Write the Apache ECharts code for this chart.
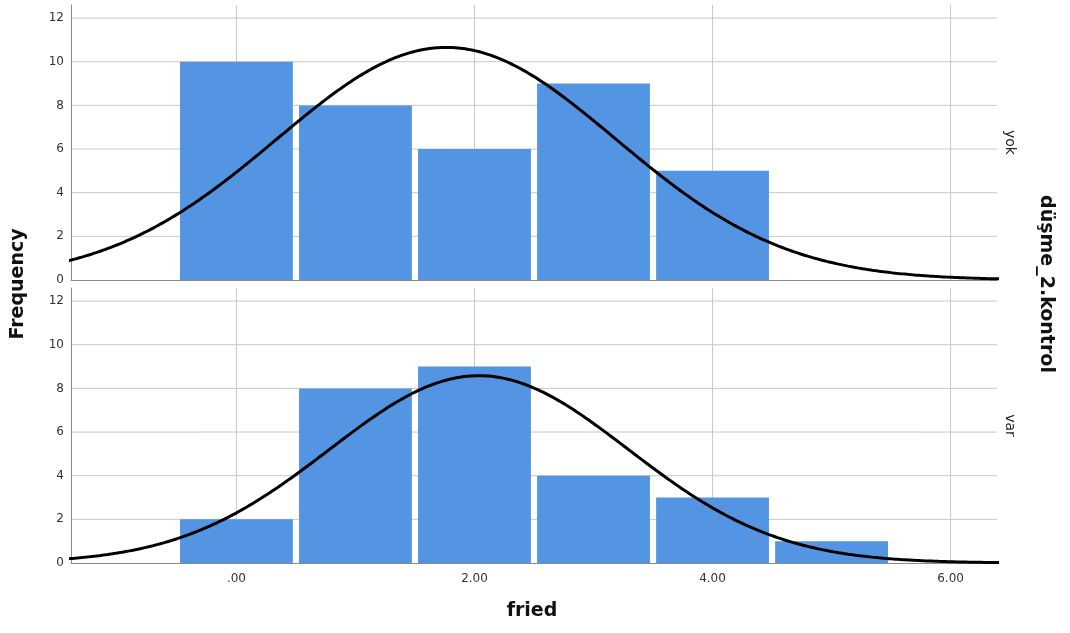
<!DOCTYPE html>
<html>
<head>
<meta charset="utf-8">
<script src="https://cdn.jsdelivr.net/npm/echarts@6/dist/echarts.min.js"></script>
<style>
  html, body { margin: 0; padding: 0; background: #fff; }
  #chart { width: 1070px; height: 633px; }
</style>
</head>
<body>
<div id="chart"></div>
<script>
// histogram bins (fried value -> count), one array per panel
var binCenters = [0, 1, 2, 3, 4, 5]
var yokCounts = [10, 8, 6, 9, 5, 0]
var varCounts = [2, 8, 9, 4, 3, 1]
var panelNames = ['yok', 'var']
var xTicks = [0, 2, 4, 6]
var yTicks = [0, 2, 4, 6, 8, 10, 12]

var font = 'DejaVu Sans'
var xMin = -1.39, xMax = 6.39, yMax = 12.6

// normal curve fitted to the binned data (mean, sample sd, n)
function fit (counts) {
  var n = 0, s = 0, s2 = 0
  counts.forEach(function (c, i) {
    n += c; s += c * binCenters[i]; s2 += c * binCenters[i] * binCenters[i]
  })
  var mean = s / n
  var sd = Math.sqrt((s2 - n * mean * mean) / (n - 1))
  return { n: n, mean: mean, sd: sd }
}
function curve (counts) {
  var f = fit(counts)
  var pts = []
  for (var x = -1.5; x <= 6.5; x += 0.02) {
    var z = (x - f.mean) / f.sd
    pts.push([x, f.n / (f.sd * Math.sqrt(2 * Math.PI)) * Math.exp(-z * z / 2)])
  }
  return pts
}

function barSeries (counts, idx) {
  return {
    type: 'custom',
    xAxisIndex: idx,
    yAxisIndex: idx,
    data: binCenters.map(function (x, i) { return [x, counts[i]] }),
    renderItem: function (params, api) {
      var x = api.value(0), y = api.value(1)
      if (!y) return
      var p0 = api.coord([x - 0.474, y])
      var p1 = api.coord([x + 0.474, 0])
      return {
        type: 'rect',
        shape: { x: p0[0], y: p0[1], width: p1[0] - p0[0], height: p1[1] - p0[1] },
        style: { fill: '#5394e3' }
      }
    },
    z: 2
  }
}
function curveSeries (counts, idx) {
  return {
    type: 'line',
    xAxisIndex: idx,
    yAxisIndex: idx,
    data: curve(counts),
    showSymbol: false,
    clip: true,
    lineStyle: { color: '#000', width: 3 },
    z: 3
  }
}

var grids = [
  { left: 71, right: 73, top: 5, height: 275 },
  { left: 71, right: 73, top: 288, height: 275 }
]

function xAxis (idx) {
  return {
    type: 'value',
    gridIndex: idx,
    min: xMin,
    max: xMax,
    axisLine: { onZero: false, lineStyle: { color: '#8a8a8a' } },
    axisTick: { show: false },
    axisLabel: {
      show: idx === 1,
      color: '#333',
      fontFamily: font,
      fontSize: 12,
      margin: 10,
      customValues: xTicks,
      formatter: function (v) { return v === 0 ? '.00' : v.toFixed(2) }
    },
    splitLine: { show: false }
  }
}
function yAxis (idx) {
  return {
    type: 'value',
    gridIndex: idx,
    min: 0,
    max: yMax,
    axisLine: { show: true, onZero: false, lineStyle: { color: '#8a8a8a' } },
    axisTick: { show: false },
    axisLabel: {
      color: '#333',
      fontFamily: font,
      fontSize: 12,
      margin: 7,
      customValues: yTicks
    },
    splitLine: { show: false }
  }
}

var chart = echarts.init(document.getElementById('chart'))
chart.setOption({
  animation: false,
  backgroundColor: '#fff',
  grid: grids,
  xAxis: [xAxis(0), xAxis(1)],
  yAxis: [yAxis(0), yAxis(1)],
  series: [
    barSeries(yokCounts, 0), curveSeries(yokCounts, 0),
    barSeries(varCounts, 1), curveSeries(varCounts, 1)
  ]
})

// grid lines at the tick values (min is not a multiple of the tick step)
var g = []
;[0, 1].forEach(function (idx) {
  var at = function (p) { return chart.convertToPixel({ xAxisIndex: idx, yAxisIndex: idx }, p) }
  xTicks.forEach(function (t) {
    var top = at([t, yMax]), bot = at([t, 0])
    g.push({ type: 'line', shape: { x1: top[0], y1: top[1], x2: bot[0], y2: bot[1] },
      style: { stroke: '#c8c8c8', lineWidth: 1 }, z: 0, silent: true })
  })
  yTicks.slice(1).forEach(function (t) {
    var l = at([xMin, t]), r = at([xMax, t])
    g.push({ type: 'line', shape: { x1: l[0], y1: l[1], x2: r[0], y2: r[1] },
      style: { stroke: '#c8c8c8', lineWidth: 1 }, z: 0, silent: true })
  })
  var mid = at([xMax, 6.3])
  g.push({ type: 'text', x: 1010, y: mid[1], rotation: -Math.PI / 2,
    style: { text: panelNames[idx], font: '14px ' + font, fill: '#222', align: 'center', verticalAlign: 'middle' } })
})
g.push({ type: 'text', x: 18, y: 284, rotation: Math.PI / 2,
  style: { text: 'Frequency', font: 'bold 19px ' + font, fill: '#111', align: 'center', verticalAlign: 'middle' } })
g.push({ type: 'text', x: 532, y: 611,
  style: { text: 'fried', font: 'bold 19px ' + font, fill: '#111', align: 'center', verticalAlign: 'middle' } })
g.push({ type: 'text', x: 1046, y: 284, rotation: -Math.PI / 2,
  style: { text: 'düşme_2.kontrol', font: 'bold 19px ' + font, fill: '#111', align: 'center', verticalAlign: 'middle' } })
chart.setOption({ graphic: g })
</script>
</body>
</html>
